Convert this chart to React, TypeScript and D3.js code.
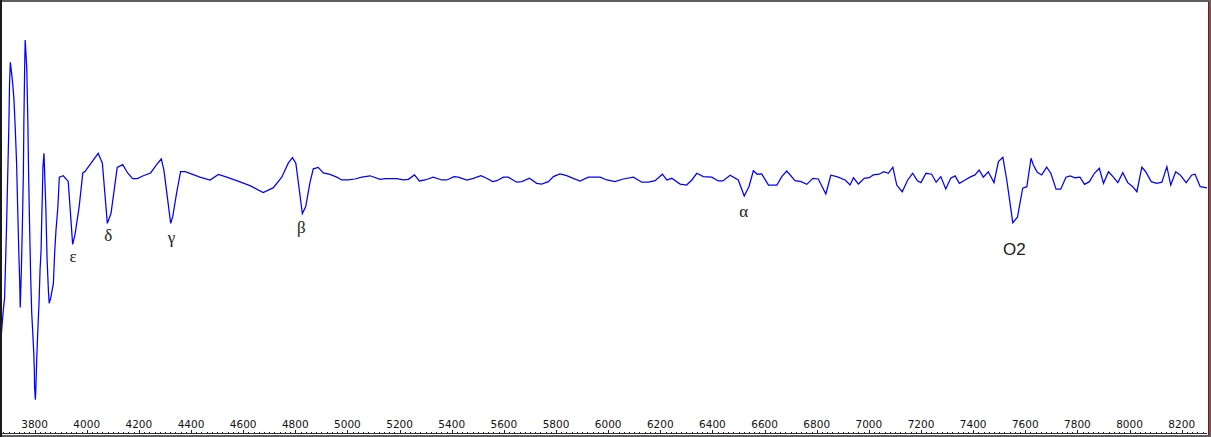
import { useRef, useEffect } from 'react';
import * as d3 from 'd3';

// wavelength (Angstrom) of each spectrum sample
const wavelengths = [
    3671, 3676, 3680, 3685, 3689, 3693, 3697, 3701, 3704, 3707,
    3712, 3716, 3721, 3726, 3731, 3735, 3739, 3743, 3745, 3749,
    3753, 3757, 3759, 3762, 3764, 3770, 3774, 3777, 3781, 3785,
    3789, 3793, 3797, 3799, 3800, 3803, 3805, 3808, 3812, 3817,
    3821, 3825, 3827, 3830, 3832, 3836, 3843, 3848, 3853, 3856,
    3862, 3867, 3872, 3877, 3882, 3889, 3895, 3910, 3929, 3946,
    3955, 3971, 3985, 3993, 4044, 4060, 4079, 4093, 4117, 4138,
    4157, 4176, 4194, 4217, 4245, 4268, 4286, 4296, 4322, 4330,
    4345, 4360, 4378, 4406, 4434, 4473, 4505, 4537, 4575, 4626,
    4677, 4716, 4748, 4773, 4789, 4802, 4814, 4827, 4840, 4856,
    4869, 4888, 4907, 4933, 4959, 4978, 5003, 5029, 5055, 5087,
    5125, 5144, 5189, 5214, 5234, 5257, 5276, 5298, 5329, 5362,
    5381, 5409, 5425, 5458, 5483, 5512, 5534, 5557, 5573, 5598,
    5617, 5649, 5669, 5698, 5726, 5745, 5771, 5790, 5815, 5841,
    5866, 5892, 5924, 5969, 5995, 6026, 6058, 6097, 6129, 6154,
    6180, 6208, 6225, 6244, 6276, 6301, 6321, 6340, 6365, 6397,
    6423, 6440, 6468, 6499, 6522, 6540, 6557, 6572, 6589, 6615,
    6647, 6666, 6685, 6717, 6740, 6762, 6785, 6806, 6835, 6854,
    6877, 6909, 6928, 6941, 6960, 6982, 7001, 7017, 7039, 7058,
    7075, 7092, 7107, 7128, 7149, 7168, 7186, 7200, 7219, 7241,
    7258, 7276, 7295, 7314, 7331, 7347, 7369, 7388, 7407, 7423,
    7439, 7458, 7480, 7497, 7514, 7529, 7552, 7570, 7590, 7606,
    7622, 7631, 7646, 7663, 7682, 7698, 7718, 7736, 7756, 7772,
    7791, 7810, 7827, 7846, 7865, 7884, 7900, 7919, 7938, 7955,
    7974, 7993, 8012, 8028, 8047, 8062, 8083, 8104, 8124, 8143,
    8158, 8177, 8194, 8217, 8239, 8251, 8271, 8297
];

// relative flux, continuum ~ 1
const flux = [
    -0.14, -0.02, 0.07, 0.16, 0.43, 0.71, 1.04, 1.36, 1.69, 1.84,
    1.76, 1.69, 1.57, 1.36, 1.12, 0.81, 0.52, 0.26, 0.09, 0.34,
    0.66, 1.05, 1.43, 1.81, 2.00, 1.80, 1.43, 1.05, 0.66, 0.31,
    0.05, -0.09, -0.24, -0.36, -0.48, -0.57, -0.48, -0.29, -0.09, 0.12,
    0.36, 0.50, 0.69, 0.91, 1.09, 1.19, 0.81, 0.43, 0.21, 0.12,
    0.16, 0.21, 0.26, 0.48, 0.64, 0.80, 1.02, 1.03, 0.99, 0.54,
    0.61, 0.81, 1.05, 1.06, 1.19, 1.12, 0.69, 0.76, 1.09, 1.11,
    1.05, 1.01, 1.01, 1.03, 1.05, 1.11, 1.15, 1.07, 0.69, 0.74,
    0.91, 1.06, 1.06, 1.04, 1.02, 1.00, 1.04, 1.02, 0.995, 0.96,
    0.91, 0.945, 1.02, 1.12, 1.16, 1.12, 0.95, 0.76, 0.81, 0.98,
    1.08, 1.09, 1.05, 1.04, 1.02, 1.00, 1.00, 1.007, 1.02, 1.03,
    1.005, 1.01, 1.01, 1.00, 1.005, 1.036, 0.993, 1.00, 1.02, 1.00,
    1.00, 1.024, 1.02, 1.00, 1.012, 1.03, 1.012, 0.988, 0.995, 1.02,
    1.02, 0.984, 0.988, 1.012, 0.976, 0.97, 0.988, 1.024, 1.043, 1.031,
    1.012, 0.993, 1.02, 1.02, 1.00, 0.988, 1.007, 1.02, 0.984, 0.984,
    0.995, 1.041, 1.00, 1.012, 0.971, 0.964, 1.00, 1.048, 1.024, 1.02,
    0.993, 0.993, 1.034, 1.00, 0.886, 0.952, 1.066, 1.041, 1.043, 0.964,
    0.964, 1.024, 1.064, 0.995, 0.988, 0.969, 1.012, 1.007, 0.90, 1.034,
    1.024, 1.00, 0.964, 1.016, 0.971, 1.012, 1.016, 1.036, 1.041, 1.059,
    1.048, 1.091, 0.964, 0.916, 1.00, 1.048, 0.995, 0.981, 1.048, 1.041,
    0.984, 1.024, 0.936, 1.012, 1.029, 0.976, 1.00, 1.02, 1.036, 1.071,
    1.02, 1.059, 0.981, 1.131, 1.162, 1.00, 0.695, 0.734, 0.941, 0.952,
    1.155, 1.107, 1.055, 1.036, 1.091, 1.048, 0.934, 0.934, 1.02, 1.029,
    1.016, 1.02, 0.969, 0.988, 1.048, 1.084, 0.976, 1.059, 1.02, 0.981,
    1.052, 0.981, 0.952, 0.916, 1.091, 1.059, 0.988, 0.976, 0.984, 1.095,
    0.964, 1.059, 1.036, 0.981, 1.036, 1.041, 0.952, 0.943
];

// absorption line annotations
const lineNames = ['ε', 'δ', 'γ', 'β', 'α', 'O2'];
const lineWaves = [3948, 4083, 4325, 4823, 6520, 7558];
const lineLabelFlux = [0.414, 0.564, 0.55, 0.621, 0.736, 0.464];

const tickLabels = [
    3800, 4000, 4200, 4400, 4600, 4800, 5000, 5200, 5400, 5600, 5800,
    6000, 6200, 6400, 6600, 6800, 7000, 7200, 7400, 7600, 7800, 8000, 8200
];

const W = 1211;
const H = 437;

const SpectrumChart = () => {

    const svgRef = useRef<SVGSVGElement | null>(null);

    useEffect(() => {
        const svgElement = svgRef.current;
        if (!svgElement) return;

        const svg = d3.select(svgElement);
        svg.selectAll('*').remove();

        const margin = { top: 2, right: 4, bottom: 3, left: 2 };
        const axisY = H - margin.bottom;

        const x = d3.scaleLinear()
            .domain([3675, 8297])
            .range([margin.left, W - margin.right]);

        const y = d3.scaleLinear()
            .domain([-0.814, 2.271])
            .range([axisY, margin.top]);

        svg.append('rect')
            .attr('x', 0).attr('y', 0)
            .attr('width', W).attr('height', H)
            .attr('fill', '#fff');

        // minor + major ticks along the bottom
        const minor = d3.range(3680, 8300, 20);
        svg.append('g')
            .selectAll('line')
            .data(minor)
            .join('line')
            .attr('x1', d => Math.round(x(d)) + 0.5)
            .attr('x2', d => Math.round(x(d)) + 0.5)
            .attr('y1', axisY - 2)
            .attr('y2', axisY)
            .attr('stroke', '#222')
            .attr('stroke-width', 1);

        svg.append('g')
            .selectAll('line')
            .data(tickLabels)
            .join('line')
            .attr('x1', d => Math.round(x(d)) + 0.5)
            .attr('x2', d => Math.round(x(d)) + 0.5)
            .attr('y1', axisY - 4)
            .attr('y2', axisY)
            .attr('stroke', '#222')
            .attr('stroke-width', 1);

        svg.append('line')
            .attr('x1', margin.left)
            .attr('x2', W - margin.right)
            .attr('y1', axisY - 0.5)
            .attr('y2', axisY - 0.5)
            .attr('stroke', '#333')
            .attr('stroke-width', 1);

        svg.append('g')
            .selectAll('text')
            .data(tickLabels)
            .join('text')
            .attr('x', d => x(d))
            .attr('y', axisY - 6)
            .attr('text-anchor', 'middle')
            .style('font-family', 'Tahoma, "DejaVu Sans", sans-serif')
            .style('font-size', '10.5px')
            .style('fill', '#111')
            .text(d => String(d));

        const line = d3.line<number>()
            .x((_, i) => x(wavelengths[i]))
            .y(d => y(d));

        svg.append('path')
            .datum(flux)
            .attr('fill', 'none')
            .attr('stroke', '#0000ff')
            .attr('stroke-width', 1.25)
            .attr('stroke-linejoin', 'miter')
            .attr('d', line);

        svg.append('g')
            .selectAll('text')
            .data(lineNames)
            .join('text')
            .attr('x', (_, i) => x(lineWaves[i]))
            .attr('y', (_, i) => y(lineLabelFlux[i]))
            .attr('text-anchor', 'middle')
            .style('font-family', d => d === 'O2' ? '"Liberation Sans", Arial, sans-serif' : '"Liberation Serif", "Times New Roman", serif')
            .style('font-size', d => d === 'O2' ? '17px' : '17px')
            .style('fill', '#1a1a1a')
            .text(d => d);

        // window frame
        svg.append('rect')
            .attr('x', 1).attr('y', 1)
            .attr('width', W - 2).attr('height', H - 2)
            .attr('fill', 'none')
            .attr('stroke', '#5f5f5f')
            .attr('stroke-width', 2);
        svg.append('line')
            .attr('x1', 1).attr('x2', 1)
            .attr('y1', 0).attr('y2', H)
            .attr('stroke', '#1a1a1a')
            .attr('stroke-width', 2);
        svg.append('line')
            .attr('x1', W - 2.5).attr('x2', W - 2.5)
            .attr('y1', 2).attr('y2', H - 2)
            .attr('stroke', '#b00000')
            .attr('stroke-width', 1);
    }, []);

    return (
        <svg ref={svgRef} width={W} height={H}
            style={{ position: 'absolute', left: 0, top: 0, display: 'block' }}></svg>
    );
};

export default function App() {
    return <SpectrumChart />;
}
